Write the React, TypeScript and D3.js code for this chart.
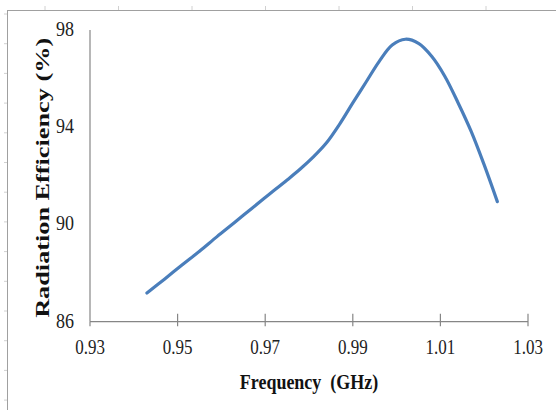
import React from "react";
import * as d3 from "d3";

const freq = [0.943, 0.947, 0.951, 0.955, 0.959, 0.963, 0.967, 0.971, 0.975, 0.978, 0.981, 0.984, 0.987, 0.990, 0.993, 0.996, 0.999, 1.002, 1.005, 1.008, 1.011, 1.014, 1.017, 1.020, 1.023];
const efficiency = [87.18, 87.75, 88.33, 88.9, 89.5, 90.08, 90.67, 91.25, 91.83, 92.28, 92.78, 93.36, 94.13, 95.0, 95.85, 96.7, 97.38, 97.62, 97.45, 96.92, 96.1, 95.02, 93.84, 92.45, 90.94];
const xTicks = [0.93, 0.95, 0.97, 0.99, 1.01, 1.03];
const yTicks = [86, 90, 94, 98];
const xTitle = "Frequency  (GHz)";
const yTitle = "Radiation Efficiency (%)";

export default function App() {
  const W = 556, H = 410;
  const left = 90, right = 528, top = 30, bottom = 321.7;
  const x = d3.scaleLinear().domain([0.93, 1.03]).range([left, right]);
  const y = d3.scaleLinear().domain([86, 98]).range([bottom, top]);
  const pts = freq.map((f, i) => [f, efficiency[i]] as [number, number]);
  const line = d3.line<[number, number]>().x(d => x(d[0])).y(d => y(d[1])).curve(d3.curveCatmullRom.alpha(0.5));
  const topMarks = d3.range(45, 556, 73.5);
  const leftMarks = d3.range(14, 410, 29.7);
  const font = "'Liberation Serif', 'Times New Roman', serif";
  return (
    <svg width={W} height={H} style={{ position: "absolute", left: 0, top: 0, background: "#fff" }}>
      <rect x={0} y={0} width={W} height={H} fill="#fff" />
      <rect x={7.5} y={10.5} width={W} height={H} fill="none" stroke="#a0a0a0" strokeWidth={1} />
      {topMarks.map((m, i) => (
        <line key={"tm" + i} x1={m} x2={m} y1={6} y2={10} stroke="#d0d0d0" />
      ))}
      {leftMarks.map((m, i) => (
        <line key={"lm" + i} x1={4} x2={7} y1={m} y2={m} stroke="#d0d0d0" />
      ))}
      <line x1={left} x2={left} y1={top} y2={bottom} stroke="#868686" strokeWidth={1.2} />
      <line x1={left} x2={right} y1={bottom} y2={bottom} stroke="#868686" strokeWidth={1.2} />
      {xTicks.map((t, i) => (
        <g key={"xt" + i}>
          <line x1={x(t)} x2={x(t)} y1={i === 0 ? bottom : bottom - 8} y2={bottom + 4.5} stroke="#868686" strokeWidth={1.2} />
          <text transform={`translate(${x(t)},${bottom + 32}) scale(1,1.18)`} textAnchor="middle" fontFamily={font} fontSize={17} fill="#222">
            {t.toFixed(2)}
          </text>
        </g>
      ))}
      {yTicks.map((t, i) => (
        <text key={"yt" + i} transform={`translate(74,${y(t) + 6}) scale(1,1.18)`} textAnchor="end" fontFamily={font} fontSize={18} fill="#222">
          {t}
        </text>
      ))}
      <path d={line(pts) || ""} fill="none" stroke="#4a7ebb" strokeWidth={3.2} strokeLinecap="round" strokeLinejoin="round" />
      <text transform={`translate(${(left + right) / 2},${389}) scale(1,1.15)`} textAnchor="middle" fontFamily={font} fontSize={18} fontWeight="bold" fill="#111" style={{ whiteSpace: "pre" }}>
        {xTitle}
      </text>
      <text transform={`translate(49,${(top + bottom) / 2 + 2}) rotate(-90)`} textAnchor="middle" fontFamily={font} fontSize={19} fontWeight="bold" fill="#111" textLength={280} lengthAdjust="spacingAndGlyphs">
        {yTitle}
      </text>
    </svg>
  );
}
